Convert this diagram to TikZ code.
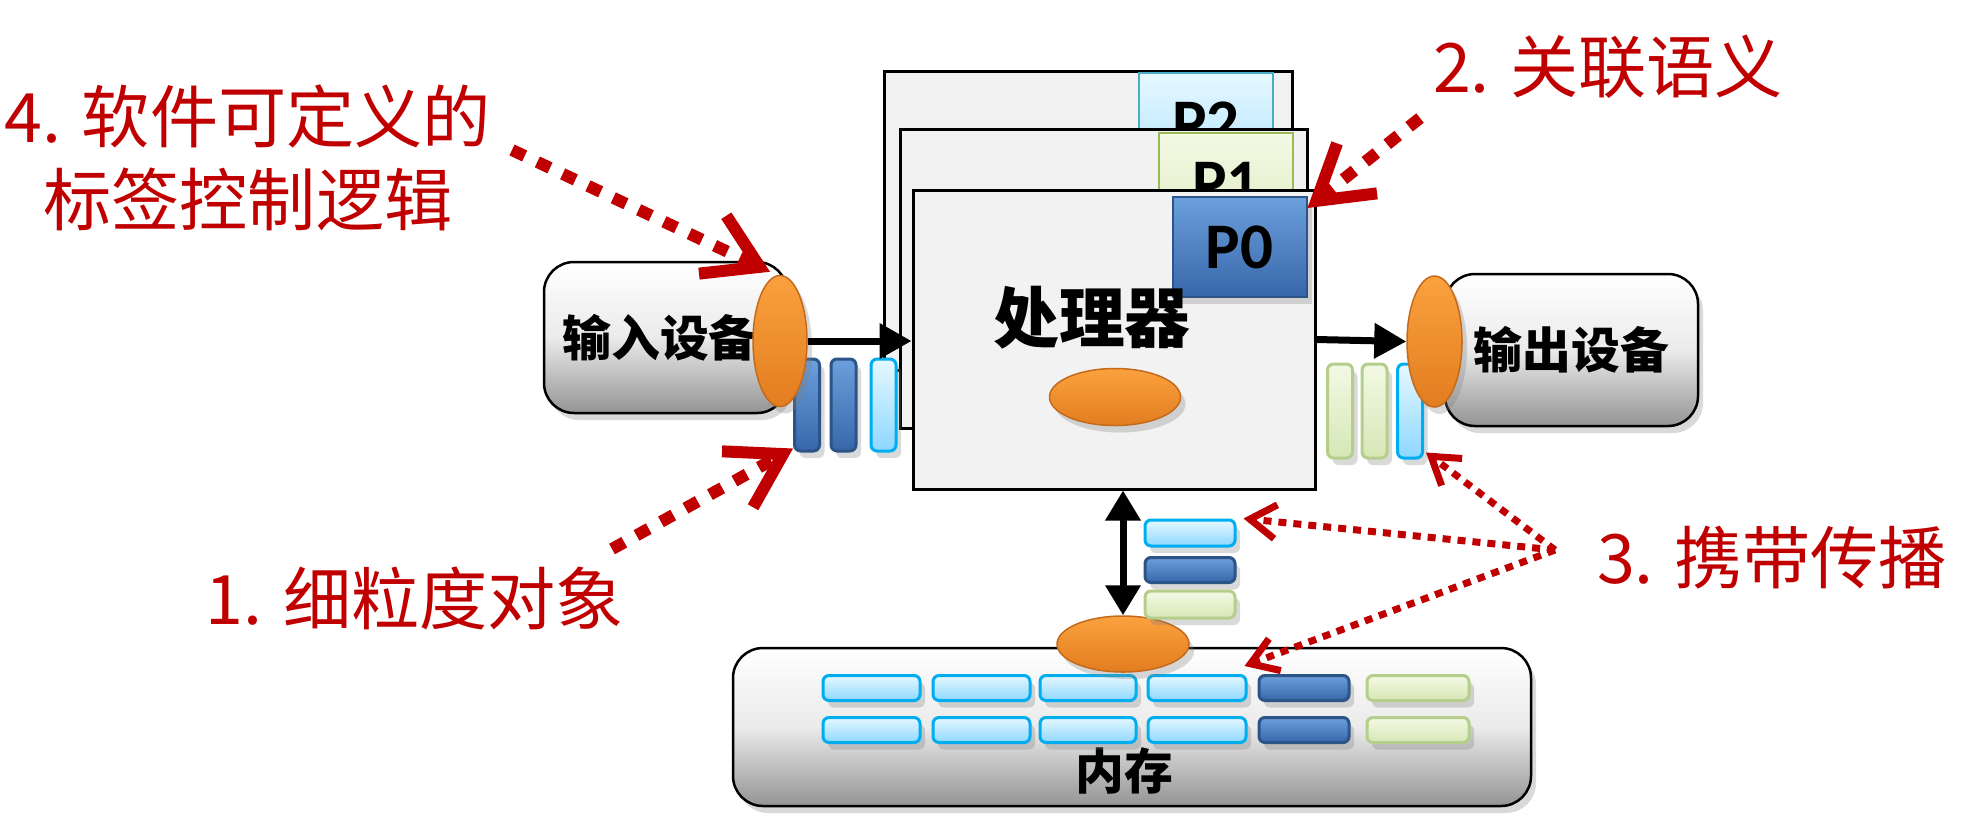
\documentclass[tikz,border=0pt]{standalone}
\usepackage{fontspec}
\setmainfont{Noto Sans CJK SC}
\newfontfamily\tagfont{Carlito}
\usetikzlibrary{arrows.meta,positioning,calc,shapes.geometric,shadows}

\definecolor{labelred}{HTML}{C00000}
\definecolor{cpugray}{HTML}{F2F2F2}
\definecolor{orangeT}{HTML}{FBA13E}
\definecolor{orangeB}{HTML}{E27D20}
\definecolor{orangeD}{HTML}{C46A1C}
\definecolor{cyanT}{HTML}{E6F8FF}
\definecolor{cyanB}{HTML}{8DD7FF}
\definecolor{cyanD}{HTML}{00AEEF}
\definecolor{blueT}{HTML}{6C9FDC}
\definecolor{blueB}{HTML}{3767AA}
\definecolor{blueD}{HTML}{2D5486}
\definecolor{greenT}{HTML}{F3F9E4}
\definecolor{greenB}{HTML}{D6E7B6}
\definecolor{greenD}{HTML}{B5CE8C}
\definecolor{tealD}{HTML}{4BACC6}
\definecolor{oliveD}{HTML}{9BBB59}

\newcommand\lblfont{\fontsize{19.4pt}{23.6pt}\selectfont}
\newcommand\devfont{\bfseries\fontsize{13.9pt}{16pt}\selectfont}

\tikzset{
  shd/.style={drop shadow={shadow xshift=0.5mm,shadow yshift=-0.7mm,opacity=0.3}},
  device/.style={draw, line width=0.25mm, rounded corners=3mm, inner sep=0,
    top color=white, bottom color=black!42, middle color=black!8, shd, font=\devfont},
  cpubox/.style={draw, line width=0.3mm, fill=cpugray, minimum height=29.9mm, inner sep=0},
  ptag/.style={draw, line width=0.2mm, minimum width=13.4mm, minimum height=10mm, inner sep=0,
    font=\tagfont\bfseries\fontsize{18.5pt}{20pt}\selectfont},
  orangeball/.style={ellipse, draw=orangeD, line width=0.15mm, inner sep=0,
    top color=orangeT, bottom color=orangeB, shd},
  vbar/.style={rounded corners=0.6mm, line width=0.3mm, minimum width=2.5mm,
    inner sep=0, shading angle=90, shd},
  hbar/.style={rounded corners=0.6mm, line width=0.3mm, minimum height=2.5mm,
    inner sep=0, shd},
  cyancell/.style={draw=cyanD, top color=cyanT, bottom color=cyanB},
  bluecell/.style={draw=blueD, top color=blueT, bottom color=blueB},
  greencell/.style={draw=greenD, top color=greenT, bottom color=greenB},
  flow/.style={line width=0.7mm, -{Triangle[length=3.2mm,width=3.4mm]}},
  dblflow/.style={line width=0.7mm, {Triangle[length=3mm,width=3.4mm]}-{Triangle[length=3mm,width=3.4mm]}},
  redlbl/.style={text=labelred, inner sep=0, font=\lblfont},
  tagarrow/.style={draw=labelred, line width=1.2mm, dash pattern=on 1.4mm off 1.4mm,
    -{Straight Barb[length=5.2mm,width=6.4mm]}},
  carryarrow/.style={draw=labelred, line width=0.7mm, dash pattern=on 0.8mm off 0.7mm,
    -{Straight Barb[length=2.6mm,width=3.4mm]}}
}

\begin{document}
\begin{tikzpicture}[x=0.1mm,y=-0.1mm]
  \useasboundingbox (0,0) rectangle (1985,830);

  % processor contexts, back to front
  \node[cpubox, minimum width=40.8mm] (cpu2) at (1088,220.5) {};
  \node[ptag, draw=tealD, top color=cyanT, bottom color=cyanB!60!cyanT] (p2) at (1206,123) {P2};
  \node[cpubox, minimum width=40.7mm] (cpu1) at (1103.5,278.5) {};
  \node[ptag, draw=oliveD, top color=greenT, bottom color=greenB!70!greenT] (p1) at (1226,183) {P1};
  \node[cpubox, minimum width=40.2mm] (cpu0) at (1114,339.5) {};
  \node[ptag, draw=blueD, top color=blueT, bottom color=blueB, shd] (p0) at (1239.5,247) {P0};
  \node[inner sep=0, font=\bfseries\fontsize{18.7pt}{20pt}\selectfont] (cpuName) at (1092,318) {处理器};
  \node[orangeball, minimum width=13.1mm, minimum height=5.7mm] (cpuEll) at (1115,397) {};

  % input device
  \node[device, minimum width=24.3mm, minimum height=15.1mm] (inDev) at (665.5,337.5) {};
  \node[inner sep=0, font=\devfont] (inName) at (660,338) {输入设备};
  \node[vbar, bluecell, minimum height=9.2mm] (inBar1) at (807,405) {};
  \node[vbar, bluecell, minimum height=9.2mm] (inBar2) at (843.5,405) {};
  \node[vbar, cyancell, minimum height=9.2mm] (inBar3) at (883.5,405) {};
  \node[orangeball, minimum width=5.4mm, minimum height=13.1mm] (inEll) at (780,341) {};
  \draw[flow] (inEll.east) -- (inEll.east -| cpu0.west);

  % output device
  \node[device, minimum width=25.3mm, minimum height=15.2mm] (outDev) at (1571.5,350) {输出设备};
  \node[vbar, greencell, minimum height=9.4mm] (outBar1) at (1340,411) {};
  \node[vbar, greencell, minimum height=9.4mm] (outBar2) at (1374.5,411) {};
  \node[vbar, cyancell, minimum height=9.4mm] (outBar3) at (1410,411) {};
  \node[orangeball, minimum width=5.5mm, minimum height=13.1mm] (outEll) at (1434.5,341.5) {};
  \draw[flow] (cpu0.east) -- (outEll.west);

  % memory
  \node[device, minimum width=79.8mm, minimum height=15.8mm] (mem) at (1132,727) {};
  \node[inner sep=0, font=\devfont] (memName) at (1124,771) {内存};
  \foreach \cx/\cw [count=\i] in {871.5/9.7, 981.5/9.7, 1088/9.6, 1197/9.8} {
    \node[hbar, cyancell, minimum width=\cw mm] (memA\i) at (\cx,688) {};
    \node[hbar, cyancell, minimum width=\cw mm] (memB\i) at (\cx,730) {};
  }
  \node[hbar, bluecell, minimum width=9mm] (memA5) at (1304,688) {};
  \node[hbar, bluecell, minimum width=9mm] (memB5) at (1304,730) {};
  \node[hbar, greencell, minimum width=10.2mm] (memA6) at (1418,688) {};
  \node[hbar, greencell, minimum width=10.2mm] (memB6) at (1418,730) {};
  \node[orangeball, minimum width=13.2mm, minimum height=5.6mm] (memEll) at (1123,644) {};
  \node[hbar, cyancell, minimum width=9mm, minimum height=2.6mm] (stk1) at (1190,533) {};
  \node[hbar, bluecell, minimum width=9mm, minimum height=2.5mm] (stk2) at (1190,570) {};
  \node[hbar, greencell, minimum width=9mm, minimum height=2.7mm] (stk3) at (1190,604.5) {};
  \draw[dblflow] (memEll.north |- cpu0.south) -- (memEll.north);

  % red notes
  \node[redlbl, align=center] (lblTag) at (248,158) {4. 软件可定义的\\标签控制逻辑};
  \node[redlbl] (lblSem) at (1608,67) {2. 关联语义};
  \node[redlbl] (lblCarry) at (1772,558) {3. 携带传播};
  \node[redlbl] (lblObj) at (415,598) {1. 细粒度对象};

  \coordinate (tagFrom) at (512,150);
  \coordinate (objFrom) at (612,549);
  \coordinate (semFrom) at (1420,118);
  \coordinate (carryFrom) at (1555,550);
  \draw[tagarrow] (tagFrom) -- ([xshift=-1mm,yshift=0.3mm]inEll.north);
  \draw[tagarrow] (objFrom) -- ([yshift=0.4mm]inBar1.south west);
  \draw[tagarrow] (semFrom) -- ([yshift=-1.2mm]p0.north east);
  \draw[carryarrow] (carryFrom) -- ([xshift=0.2mm,yshift=0.7mm]outBar3.south east);
  \draw[carryarrow] (carryFrom) -- ([xshift=0.7mm]stk1.north east);
  \draw[carryarrow] (carryFrom) -- ([xshift=-0.3mm,yshift=0.8mm]memA4.north east);
\end{tikzpicture}
\end{document}
